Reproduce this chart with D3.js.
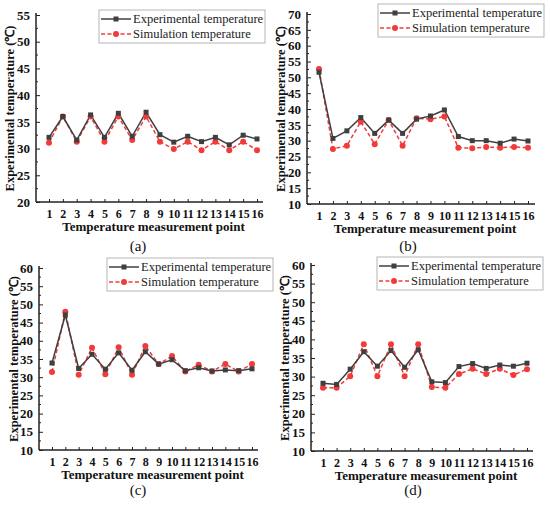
<!DOCTYPE html>
<html>
<head>
<meta charset="utf-8">
<script src="https://cdn.jsdelivr.net/npm/d3@7/dist/d3.min.js"></script>
<style>
  body { margin: 0; background: #fff; }
  svg { display: block; font-family: "Liberation Serif", "Times New Roman", serif; }
</style>
</head>
<body>
<svg id="chart" width="550" height="507"></svg>
<script>
// === DATA =====================================================
const points = [1, 2, 3, 4, 5, 6, 7, 8, 9, 10, 11, 12, 13, 14, 15, 16];

const expA = [32.1, 36.0, 31.6, 36.3, 32.1, 36.6, 32.3, 36.8, 32.6, 31.2, 32.3, 31.3, 32.1, 30.7, 32.5, 31.8];
const simA = [31.1, 36.0, 31.3, 36.0, 31.3, 36.0, 31.6, 36.0, 31.3, 29.9, 31.3, 29.7, 31.3, 29.7, 31.3, 29.7];

const expB = [51.6, 30.7, 33.1, 37.3, 32.3, 36.5, 32.3, 36.8, 37.8, 39.7, 31.3, 30.0, 30.0, 29.2, 30.5, 29.9];
const simB = [52.6, 27.4, 28.4, 36.0, 28.9, 36.5, 28.4, 37.1, 36.8, 37.6, 27.8, 27.6, 28.0, 27.8, 28.0, 27.8];

const expC = [33.9, 47.1, 32.4, 36.3, 32.2, 36.7, 31.9, 37.0, 33.6, 34.8, 31.8, 32.6, 31.7, 32.0, 31.8, 32.3];
const simC = [31.4, 48.0, 30.7, 38.1, 30.8, 38.2, 30.7, 38.6, 33.6, 35.8, 31.6, 33.4, 31.6, 33.6, 31.6, 33.6];

const expD = [28.2, 27.9, 32.0, 36.7, 32.8, 37.0, 32.5, 37.2, 28.6, 28.4, 32.7, 33.5, 32.2, 33.1, 32.8, 33.6];
const simD = [27.0, 27.0, 30.1, 38.7, 30.1, 38.7, 30.1, 38.7, 27.2, 27.0, 30.7, 32.1, 30.7, 32.1, 30.4, 32.0];

const yTicksA = [20, 25, 30, 35, 40, 45, 50, 55];
const yTicksB = [10, 15, 20, 25, 30, 35, 40, 45, 50, 55, 60, 65, 70];
const yTicksCD = [10, 15, 20, 25, 30, 35, 40, 45, 50, 55, 60];

const seriesNames = ["Experimental temperature", "Simulation temperature"];
const captions = ["(a)", "(b)", "(c)", "(d)"];
const xTitle = "Temperature measurement point";
const yTitle = "Experimental temperature (\u2103)";

// === LAYOUT ===================================================
const panels = [
  { exp: expA, sim: simA, ticks: yTicksA, cap: captions[0],
    axisX: 36, x1: 49, x16: 257, axisEnd: 263, top: 15, bottom: 202,
    legend: { x: 99, y: 10 }, yTitleX: 10, capX: 138, capY: 251 },
  { exp: expB, sim: simB, ticks: yTicksB, cap: captions[1],
    axisX: 307, x1: 319, x16: 528, axisEnd: 535, top: 14, bottom: 204,
    legend: { x: 378, y: 4 }, yTitleX: 281, capX: 408, capY: 251 },
  { exp: expC, sim: simC, ticks: yTicksCD, cap: captions[2],
    axisX: 39, x1: 52, x16: 252, axisEnd: 258, top: 268, bottom: 450,
    legend: { x: 107, y: 258 }, yTitleX: 14, capX: 138, capY: 495 },
  { exp: expD, sim: simD, ticks: yTicksCD, cap: captions[3],
    axisX: 311, x1: 323, x16: 527, axisEnd: 533, top: 265, bottom: 451,
    legend: { x: 377, y: 257 }, yTitleX: 285, capX: 413, capY: 495 }
];

const EXP_COLOR = "#3f3f3f";
const SIM_COLOR = "#f23a3a";
const AXIS_COLOR = "#222";

const svg = d3.select("#chart");

panels.forEach(p => drawPanel(p));

function drawPanel(p) {
  const g = svg.append("g");
  const yMin = d3.min(p.ticks), yMax = d3.max(p.ticks);

  const x = d3.scaleLinear().domain([points[0], points[points.length - 1]]).range([p.x1, p.x16]);
  const y = d3.scaleLinear().domain([yMin, yMax]).range([p.bottom, p.top]);

  // --- Y axis (ticks inward, minor ticks between)
  const yAxis = d3.axisLeft(y).tickValues(p.ticks).tickSize(-4).tickPadding(6);
  const ya = g.append("g").attr("transform", `translate(${p.axisX},0)`).call(yAxis);
  ya.select(".domain").remove();
  ya.selectAll(".tick line").attr("stroke", AXIS_COLOR).attr("stroke-width", 1);
  ya.selectAll(".tick text")
    .attr("font-size", 13).attr("font-weight", "bold").attr("fill", "#111")
    .attr("font-family", "Liberation Serif, serif");

  const minors = d3.pairs(p.ticks).map(([a, b]) => (a + b) / 2);
  g.append("g").selectAll("line").data(minors).enter().append("line")
    .attr("x1", p.axisX).attr("x2", p.axisX + 2)
    .attr("y1", d => y(d)).attr("y2", d => y(d))
    .attr("stroke", AXIS_COLOR).attr("stroke-width", 1);

  // --- X axis (ticks inward)
  const xAxis = d3.axisBottom(x).tickValues(points).tickSize(-3).tickPadding(7).tickFormat(d3.format("d"));
  const xa = g.append("g").attr("transform", `translate(0,${p.bottom})`).call(xAxis);
  xa.select(".domain").remove();
  xa.selectAll(".tick line").attr("stroke", AXIS_COLOR).attr("stroke-width", 1);
  xa.selectAll(".tick text")
    .attr("font-size", 12).attr("font-weight", "bold").attr("fill", "#111")
    .attr("font-family", "Liberation Serif, serif");

  // axis lines
  g.append("line").attr("x1", p.axisX).attr("x2", p.axisX)
    .attr("y1", p.top - 2).attr("y2", p.bottom)
    .attr("stroke", AXIS_COLOR).attr("stroke-width", 1.5);
  g.append("line").attr("x1", p.axisX).attr("x2", p.axisEnd)
    .attr("y1", p.bottom).attr("y2", p.bottom)
    .attr("stroke", AXIS_COLOR).attr("stroke-width", 1.5);

  // --- Axis titles
  g.append("text")
    .attr("transform", `translate(${p.yTitleX},${(p.top + p.bottom) / 2}) rotate(-90)`)
    .attr("text-anchor", "middle").attr("dy", "0.35em")
    .attr("font-size", 12.5).attr("font-weight", "bold").attr("fill", "#111")
    .text(yTitle);

  g.append("text")
    .attr("x", (p.axisX + p.axisEnd) / 2 + 4).attr("y", p.bottom + 29)
    .attr("text-anchor", "middle")
    .attr("font-size", 13).attr("font-weight", "bold").attr("fill", "#111")
    .text(xTitle);

  g.append("text")
    .attr("x", p.capX).attr("y", p.capY)
    .attr("text-anchor", "middle")
    .attr("font-size", 15).attr("fill", "#111")
    .text(p.cap);

  // --- Series
  const line = d3.line().x((d, i) => x(points[i])).y(d => y(d));

  g.append("path").datum(p.sim)
    .attr("d", line).attr("fill", "none")
    .attr("stroke", SIM_COLOR).attr("stroke-width", 1.5).attr("stroke-dasharray", "4,2.5");

  g.append("path").datum(p.exp)
    .attr("d", line).attr("fill", "none")
    .attr("stroke", EXP_COLOR).attr("stroke-width", 1.5);

  g.append("g").selectAll("circle").data(p.sim).enter().append("circle")
    .attr("cx", (d, i) => x(points[i])).attr("cy", d => y(d))
    .attr("r", 3).attr("fill", SIM_COLOR);

  g.append("g").selectAll("rect").data(p.exp).enter().append("rect")
    .attr("x", (d, i) => x(points[i]) - 2.5).attr("y", d => y(d) - 2.5)
    .attr("width", 5).attr("height", 5).attr("fill", EXP_COLOR);

  // --- Legend
  const lg = g.append("g").attr("transform", `translate(${p.legend.x},${p.legend.y})`);
  lg.append("rect").attr("width", 166).attr("height", 33)
    .attr("fill", "#fff").attr("stroke", "#b5b5b5").attr("stroke-width", 1);

  const rows = [
    { name: seriesNames[0], color: EXP_COLOR, dash: null, shape: "rect" },
    { name: seriesNames[1], color: SIM_COLOR, dash: "4,2.5", shape: "circle" }
  ];
  rows.forEach((r, i) => {
    const cy = 9 + i * 15;
    lg.append("line").attr("x1", 2).attr("x2", 32).attr("y1", cy).attr("y2", cy)
      .attr("stroke", r.color).attr("stroke-width", 1.5)
      .attr("stroke-dasharray", r.dash);
    if (r.shape === "rect") {
      lg.append("rect").attr("x", 14.5).attr("y", cy - 2.5).attr("width", 5).attr("height", 5).attr("fill", r.color);
    } else {
      lg.append("circle").attr("cx", 17).attr("cy", cy).attr("r", 3).attr("fill", r.color);
    }
    lg.append("text").attr("x", 34).attr("y", cy).attr("dy", "0.35em")
      .attr("font-size", 12.5).attr("fill", "#222").text(r.name);
  });
}
</script>
</body>
</html>
